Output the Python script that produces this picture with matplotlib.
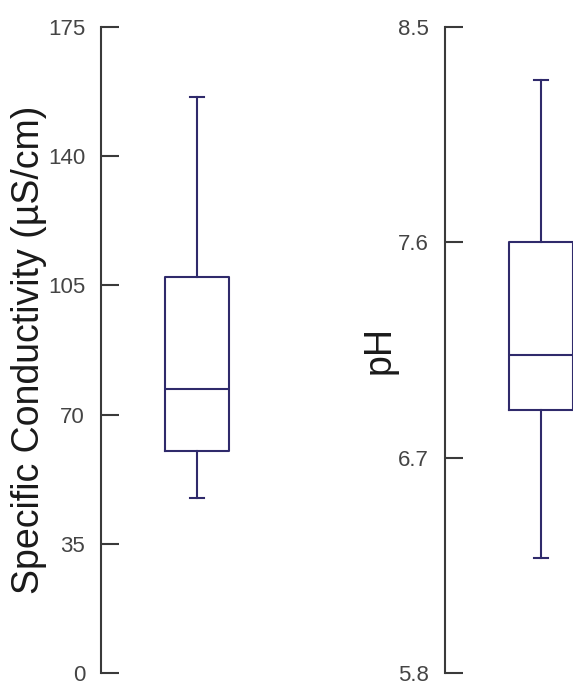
import matplotlib
matplotlib.use("Agg")
import matplotlib.pyplot as plt

# box statistics
labels = ["Specific Conductivity (µS/cm)", "pH"]
whislo = [47.4, 6.28]
q1 = [60.1, 6.90]
med = [76.9, 7.13]
q3 = [107.4, 7.60]
whishi = [156.0, 8.28]

# axis ranges and ticks
ylims = [(0, 175), (5.8, 8.5)]
yticks = [[0, 35, 70, 105, 140, 175], [5.8, 6.7, 7.6, 8.5]]
ytick_labels = [["0", "35", "70", "105", "140", "175"], ["5.8", "6.7", "7.6", "8.5"]]

box_color = "#2f2a6b"
spine_color = "#3a3a3a"
tick_text = "#444444"
label_color = "#1a1a1a"

plt.rcParams["font.family"] = ["Liberation Sans", "DejaVu Sans"]

W, H = 573, 684
fig = plt.figure(figsize=(W / 100, H / 100), dpi=100, facecolor="white")

# left edge of each axis in pixels, and where the label sits
spine_x = [101, 445]
label_x = [29, 380]
ax_w = 192
ax_bottom = 673
ax_top = 27

for i in range(2):
    ax = fig.add_axes([spine_x[i] / W, (H - ax_bottom) / H, ax_w / W, (ax_bottom - ax_top) / H])
    stats = [{
        "whislo": whislo[i], "q1": q1[i], "med": med[i],
        "q3": q3[i], "whishi": whishi[i], "fliers": [],
    }]
    line = dict(color=box_color, linewidth=1.5)
    ax.bxp(stats, positions=[0.5], widths=0.333, showfliers=False,
           boxprops=line, whiskerprops=line, medianprops=line,
           capprops=line, capwidths=0.073)

    ax.set_xlim(0, 1)
    ax.set_ylim(*ylims[i])
    ax.set_xticks([])
    ax.set_yticks(yticks[i])
    ax.set_yticklabels(ytick_labels[i])
    for s in ["top", "right", "bottom"]:
        ax.spines[s].set_visible(False)
    ax.spines["left"].set_color(spine_color)
    ax.spines["left"].set_linewidth(1.5)
    ax.tick_params(axis="y", direction="in", length=13, width=1.5,
                   color=spine_color, pad=11.5, labelsize=16,
                   labelcolor=tick_text)
    ax.set_facecolor("none")

    ax.set_ylabel(labels[i], fontsize=27, color=label_color, va="center")
    ax.yaxis.set_label_coords((label_x[i] - spine_x[i]) / ax_w, 0.5)

fig.savefig("out.png", dpi=100)
